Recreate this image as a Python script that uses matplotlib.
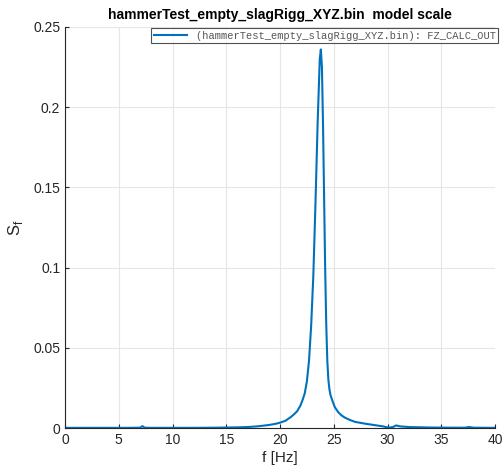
import numpy as np
import matplotlib.pyplot as plt

# spectrum
freq = [0, 2, 4, 6, 7.0, 7.2, 7.4, 8, 10, 12, 14, 15, 16, 17, 18, 19, 19.5, 20, 20.5,
        21, 21.3, 21.6, 21.9, 22.1, 22.3, 22.5, 22.7, 22.9, 23.1, 23.3, 23.5, 23.7,
        23.8, 23.9, 24.0, 24.1, 24.2, 24.3, 24.4, 24.5, 24.6, 24.7, 24.9, 25.1, 25.4,
        25.7, 26.0, 26.5, 27, 28, 29, 29.6, 30.1, 30.5, 30.8, 31.2, 32, 34, 36, 37.2,
        37.6, 38, 40]
sf = [0.0001, 0.0001, 0.0001, 0.0001, 0.0002, 0.0012, 0.0002, 0.0001, 0.0001, 0.0001,
      0.0002, 0.0003, 0.0004, 0.0006, 0.0011, 0.0019, 0.0025, 0.0033, 0.0045,
      0.0068, 0.0085, 0.0105, 0.0140, 0.0175, 0.0215, 0.0290, 0.0420, 0.0640, 0.0950,
      0.1400, 0.1900, 0.2300, 0.2360, 0.2250, 0.1900, 0.1450, 0.1000, 0.0650,
      0.0420, 0.0300, 0.0240, 0.0205, 0.0165, 0.0130, 0.0100, 0.0080, 0.0066,
      0.0050, 0.0038, 0.0026, 0.0016, 0.0010, 0.0002, 0.0006, 0.0016, 0.0010,
      0.0006, 0.0003, 0.0002, 0.0002, 0.0006, 0.0002, 0.0001]

label = '(hammerTest_empty_slagRigg_XYZ.bin): FZ_CALC_OUT'
title = 'hammerTest_empty_slagRigg_XYZ.bin  model scale'

plt.rcParams['font.family'] = ['Liberation Sans', 'DejaVu Sans']

fig = plt.figure(figsize=(5.03, 4.70), dpi=100)
ax = fig.add_axes([65 / 503, 42 / 470, 430 / 503, 401 / 470])

ax.plot(freq, sf, color='#0072BD', linewidth=1.5, label=label)

ax.set_xlim(0, 40)
ax.set_ylim(0, 0.25)
ax.set_xticks(np.arange(0, 41, 5))
ax.set_yticks([0, 0.05, 0.1, 0.15, 0.2, 0.25])
ax.set_yticklabels(['0', '0.05', '0.1', '0.15', '0.2', '0.25'])
ax.grid(True, color='#e6e6e6', linewidth=0.8)
ax.set_axisbelow(True)

for s in ['top', 'right']:
    ax.spines[s].set_visible(False)
for s in ['left', 'bottom']:
    ax.spines[s].set_color('#262626')
    ax.spines[s].set_linewidth(0.8)
ax.tick_params(colors='#262626', labelsize=10, direction='in', length=3, width=0.8)

ax.set_xlabel('f [Hz]', fontsize=11, color='#262626', labelpad=3)
ax.set_ylabel('S$_\\mathregular{f}$', fontsize=12, color='#262626', labelpad=6)
ax.set_title(title, fontsize=10, fontweight='bold', pad=6)

leg = ax.legend(loc='upper right', prop={'family': 'Liberation Mono', 'size': 7.5},
                frameon=True, fancybox=False, borderpad=0.25, handlelength=3.2,
                borderaxespad=0.1, bbox_to_anchor=(1.01, 1.0))
leg.get_frame().set_edgecolor('#262626')
leg.get_frame().set_linewidth(0.8)
for t in leg.get_texts():
    t.set_color('#555555')

fig.savefig('out.png', dpi=100)
